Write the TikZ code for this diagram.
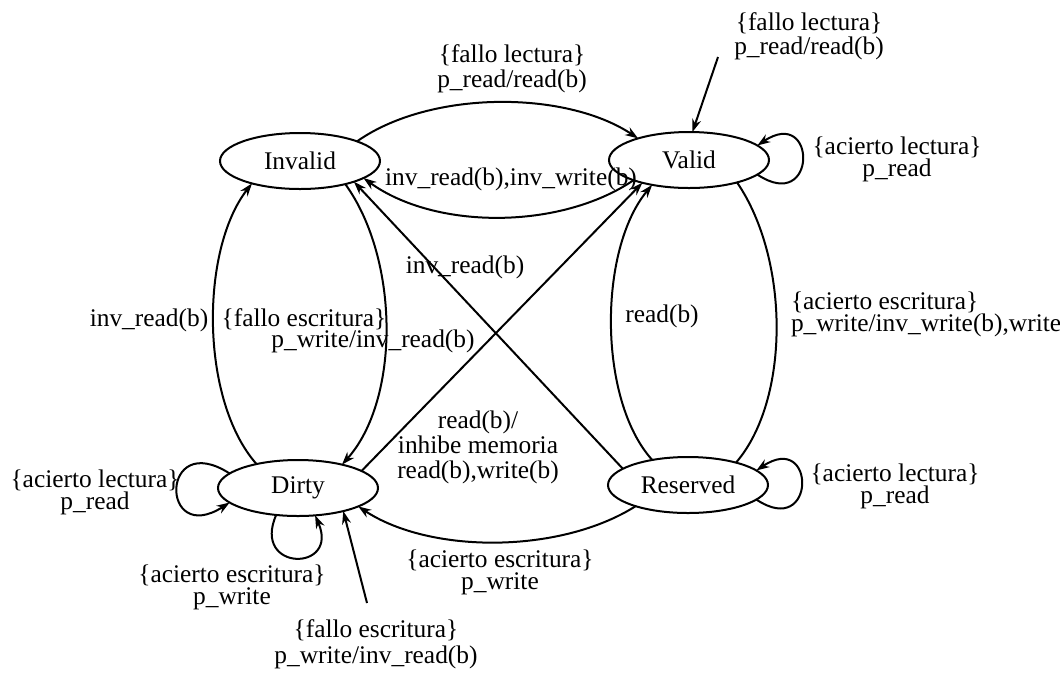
\documentclass[tikz,border=0pt]{standalone}
\usepackage{fontspec}
\setmainfont{Liberation Serif}
\usetikzlibrary{shapes.geometric,arrows.meta}
\newcommand\lblfont{\fontsize{12.7}{11}\selectfont\lineskiplimit=-20pt\relax}
\tikzset{
  state/.style={ellipse, draw, minimum width=80pt, minimum height=28pt, inner sep=0pt, outer sep=0pt},
  lbl/.style={align=center, inner sep=0pt},
  trans/.style={-{Stealth[length=6.5pt,width=4.5pt]}}
}
\begin{document}
\begin{tikzpicture}[x=0.5pt, y=-0.5pt, line width=1pt, every node/.style={font=\lblfont}]
  \useasboundingbox (0,0) rectangle (1060,676);
  \clip (0,0) rectangle (1060,676);
  % states
  \node[state] (Invalid) at (300,161) {Invalid};
  \node[state] (Valid) at (689,160) {Valid};
  \node[state] (Dirty) at (298,488) {Dirty};
  \node[state] (Reserved) at (688,485) {Reserved};
  \coordinate (vin) at (718,57); \coordinate (din) at (367,603);
  % Invalid <-> Valid
  \draw[trans] (Invalid.19) .. controls (430,90) and (565,90) .. (Valid.157);
  \draw[trans] (Valid.200) .. controls (560,230) and (435,230) .. (Invalid.-15);
  % Invalid <-> Dirty
  \draw[trans] (Dirty.150) .. controls (200,400) and (200,250) .. (Invalid.205);
  \draw[trans] (Invalid.-27) .. controls (400,260) and (400,400) .. (Dirty.28);
  % crossing lines
  \draw[trans] (Reserved.166) -- (Invalid.-21);
  \draw[trans] (Dirty.15) -- (Valid.206);
  % Valid <-> Reserved
  \draw[trans] (Reserved.145) .. controls (598,400) and (598,250) .. (Valid.214);
  \draw (Valid.-25) .. controls (790,260) and (790,400) .. (Reserved.25);
  % Reserved -> Dirty
  \draw[trans] (Reserved.202) .. controls (560,554) and (430,554) .. (Dirty.-17);
  % incoming misses
  \draw[trans] (vin) -- (Valid.83);
  \draw[trans] (din) -- (Dirty.-27);
  % self loops
  \foreach \s in {Valid,Reserved}
    \draw[trans] (\s.-12) .. controls +(60,40) and +(60,-40) .. (\s.12);
  \draw[trans] (Dirty.168) .. controls +(-70,-45) and +(-70,45) .. (Dirty.192);
  \draw[trans] (Dirty.231) .. controls +(-25,57) and +(25,57) .. (Dirty.302);
  % labels
  \node[lbl] (lIV) at (512,69) {\{fallo lectura\}\\[1.5pt]p\_read/read(b)};
  \node[lbl] (lVI) at (511,179) {inv\_read(b),inv\_write(b)};
  \node[lbl] (lvin) at (809,36) {\{fallo lectura\}\\[1pt]p\_read/read(b)};
  \node[lbl] (lVV) at (897,159) {\{acierto lectura\}\\p\_read};
  \node[lbl] (lDI) at (149,320) {inv\_read(b)};
  \node[lbl] (lID1) at (304,319) {\{fallo escritura\}};
  \node[lbl] (lID2) at (373,341) {p\_write/inv\_read(b)};
  \node[lbl] (lRI) at (465,267) {inv\_read(b)};
  \node[lbl] (lDV) at (478,447) {read(b)/\\[1.5pt]inhibe memoria\\[1.5pt]read(b),write(b)};
  \node[lbl] (lRV) at (662,316) {read(b)};
  \node[lbl, anchor=west, align=left] (lVR) at (790,314) {\{acierto escritura\}\\p\_write/inv\_write(b),write(b)};
  \node[lbl] (lRR) at (895,486) {\{acierto lectura\}\\p\_read};
  \node[lbl] (lRD) at (500,572) {\{acierto escritura\}\\p\_write};
  \node[lbl] (lDL) at (95,492) {\{acierto lectura\}\\p\_read};
  \node[lbl] (lDB) at (232,587) {\{acierto escritura\}\\p\_write};
  \node[lbl] (ldin) at (376,644) {\{fallo escritura\}\\[2pt]p\_write/inv\_read(b)};
\end{tikzpicture}
\end{document}
